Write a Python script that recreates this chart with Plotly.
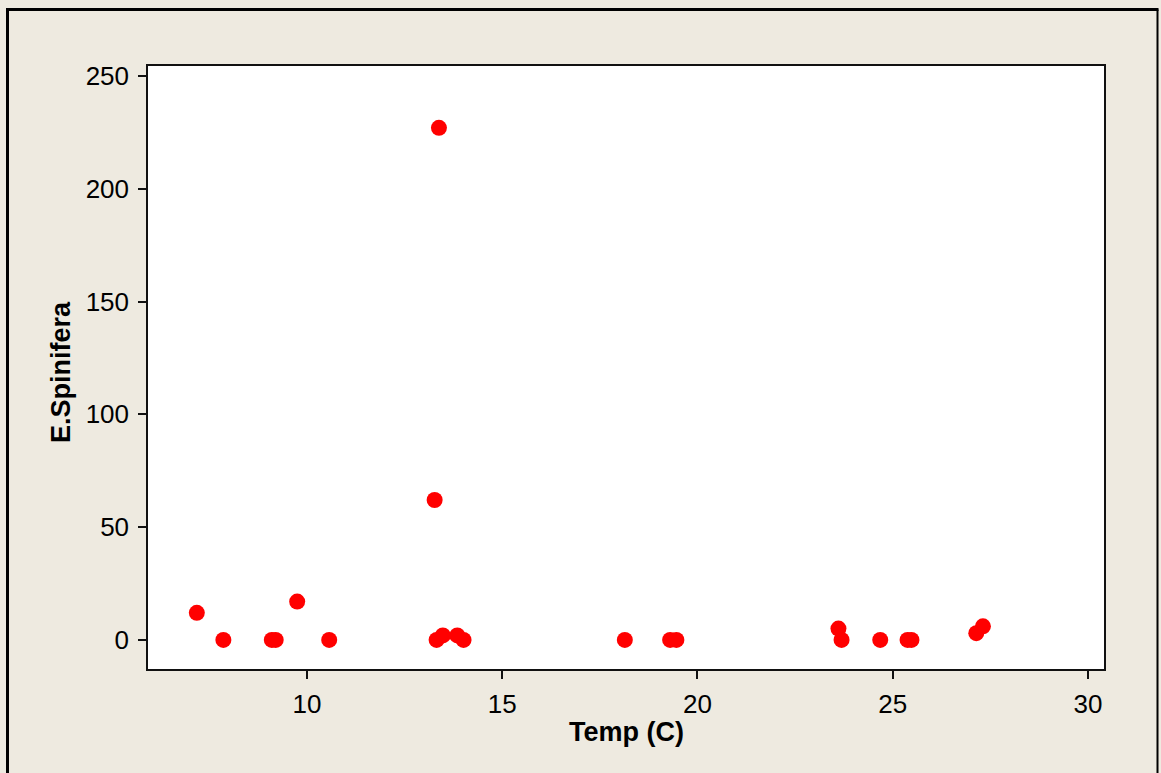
import plotly.graph_objects as go

# Water temperature (C) and E.Spinifera counts per sample
temp = [7.18, 7.86, 9.10, 9.20, 9.75, 10.57, 13.27, 13.38, 13.32, 13.48, 13.85,
        14.01, 18.14, 19.30, 19.46, 23.61, 23.69, 24.68, 25.38, 25.48, 27.14, 27.31]
spinifera = [12, 0, 0, 0, 17, 0, 62, 227, 0, 2, 2,
             0, 0, 0, 0, 5, 0, 0, 0, 0, 3, 6]

x_ticks = [10, 15, 20, 25, 30]
y_ticks = [0, 50, 100, 150, 200, 250]

W, H = 1161, 773
L, R, T, B = 148, 1104, 66, 669  # plot area edges in pixels
BG = "#EEEAE0"
FONT = "Liberation Sans, Arial, sans-serif"


def px_x(p):
    return (p - L) / (R - L)


def px_y(p):
    return (B - p) / (B - T)


fig = go.Figure(
    go.Scatter(
        x=temp,
        y=spinifera,
        mode="markers",
        marker=dict(color="#FF0000", size=16, line=dict(width=0)),
        hoverinfo="x+y",
    )
)

axis_common = dict(
    showgrid=False,
    zeroline=False,
    showline=True,
    linecolor="#111111",
    linewidth=1.5,
    mirror=True,
    ticks="outside",
    ticklen=8,
    tickwidth=1.5,
    tickcolor="#111111",
    tickfont=dict(family=FONT, size=26, color="#000000"),
)

fig.update_xaxes(range=[5.93, 30.41], tickvals=x_ticks, ticklabelstandoff=3, **axis_common)
fig.update_yaxes(range=[-12.9, 254.4], tickvals=y_ticks, ticklabelstandoff=4, **axis_common)

# Outer frame: heavy left and top rules, thin right rule
frame = [
    dict(x0=px_x(7.5), x1=px_x(7.5), y0=px_y(9.5), y1=px_y(H + 5), w=3),
    dict(x0=px_x(6), x1=px_x(1158.5), y0=px_y(9.5), y1=px_y(9.5), w=3),
    dict(x0=px_x(1157.5), x1=px_x(1157.5), y0=px_y(9.5), y1=px_y(H + 5), w=2),
]
shapes = [
    dict(type="line", xref="paper", yref="paper", x0=f["x0"], x1=f["x1"],
         y0=f["y0"], y1=f["y1"], line=dict(color="#000000", width=f["w"]))
    for f in frame
]

annotations = [
    dict(text="<b>Temp (C)</b>", xref="paper", yref="paper",
         x=px_x(626), y=px_y(732), xanchor="center", yanchor="middle",
         showarrow=False, font=dict(family=FONT, size=27, color="#000000")),
    dict(text="<b>E.Spinifera</b>", xref="paper", yref="paper",
         x=px_x(61), y=px_y(372), xanchor="center", yanchor="middle",
         textangle=-90, showarrow=False,
         font=dict(family=FONT, size=27, color="#000000")),
]

fig.update_layout(
    width=W,
    height=H,
    margin=dict(l=L, r=W - R, t=T, b=H - B),
    paper_bgcolor=BG,
    plot_bgcolor="#FFFFFF",
    showlegend=False,
    shapes=shapes,
    annotations=annotations,
)

fig.write_html("out.html")
